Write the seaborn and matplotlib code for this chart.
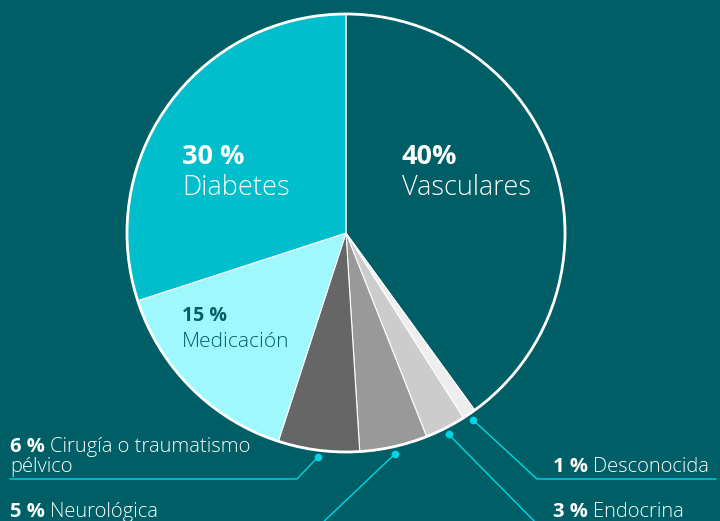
import numpy as np
import seaborn as sns
import matplotlib.pyplot as plt
from matplotlib.patches import Circle

# datos
categorias = ['Vasculares', 'Desconocida', 'Endocrina', 'Neurológica',
              'Cirugía o traumatismo\npélvico', 'Medicación', 'Diabetes']
valores = [40, 1, 3, 5, 6, 15, 30]
etiquetas_pct = ['40%', '1 %', '3 %', '5 %', '6 %', '15 %', '30 %']
colores = ['#005F66', '#EEEEEE', '#CCCCCC', '#999999', '#666666', '#A0F8FF', '#00BECC']

fondo = '#005F66'
cian = '#00D6E6'

sns.set_theme(style='white')
plt.rcParams['font.family'] = ['Open Sans', 'DejaVu Sans']

fig = plt.figure(figsize=(7.2, 5.21), dpi=100, facecolor=fondo)
ax = fig.add_axes([0, 0, 1, 1])
ax.set_facecolor(fondo)

cx, cy, r = 346, 521 - 233, 219
wedges, _ = ax.pie(valores, colors=colores, startangle=90, counterclock=False,
                   center=(cx, cy), radius=r,
                   wedgeprops=dict(edgecolor='white', linewidth=0.8))
ax.add_patch(Circle((cx, cy), r, fill=False, edgecolor='white', linewidth=2, zorder=5))
ax.set_xlim(0, 720)
ax.set_ylim(0, 521)
ax.set_aspect('equal')
ax.axis('off')


def Y(yp):
    return 521 - yp


# etiquetas dentro del pastel
ax.text(402, Y(164), etiquetas_pct[0], color='white', fontsize=19.5, fontweight='bold')
ax.text(402, Y(195), categorias[0], color='white', fontsize=19.5, fontweight='light')
ax.text(182, Y(164), etiquetas_pct[6], color='white', fontsize=19.5, fontweight='bold')
ax.text(182, Y(195), categorias[6], color='white', fontsize=19.5, fontweight='light')
ax.text(182, Y(321), etiquetas_pct[5], color=fondo, fontsize=14, fontweight='bold')
ax.text(182, Y(347), categorias[5], color=fondo, fontsize=15, fontweight='light')

fig.canvas.draw()
renderer = fig.canvas.get_renderer()

fs = 14.5


def etiqueta(x, yb, pct, nombre):
    t = ax.text(x, Y(yb), pct, color='white', fontsize=fs, fontweight='bold')
    bb = t.get_window_extent(renderer)
    x2 = ax.transData.inverted().transform((bb.x1, 0))[0] + 5
    ax.text(x2, Y(yb), nombre, color='white', fontsize=fs, fontweight='light')


# líneas guía: punto en el ángulo medio de cada porción
def punto(i, rr=226):
    w = wedges[i]
    ang = np.deg2rad((w.theta1 + w.theta2) / 2)
    return cx + rr * np.cos(ang), cy + rr * np.sin(ang)


guias = {
    1: [(537, 479), (716, 479)],
    2: [(540, 527)],
    3: [(318, 527)],
    4: [(297, 479), (10, 479)],
}
for i, pts in guias.items():
    px, py = punto(i)
    xs = [px] + [p[0] for p in pts]
    ys = [py] + [Y(p[1]) for p in pts]
    ax.plot(xs, ys, color=cian, linewidth=1, clip_on=False)
    ax.plot(px, py, 'o', color=cian, markersize=4.5)

etiqueta(553, 472, etiquetas_pct[1], categorias[1])
etiqueta(553, 517, etiquetas_pct[2], categorias[2])
etiqueta(10, 517, etiquetas_pct[3], categorias[3])
etiqueta(10, 452, etiquetas_pct[4], 'Cirugía o traumatismo')
ax.text(10, Y(472), 'pélvico', color='white', fontsize=fs, fontweight='light')

fig.savefig('out.png', dpi=100, facecolor=fondo)
